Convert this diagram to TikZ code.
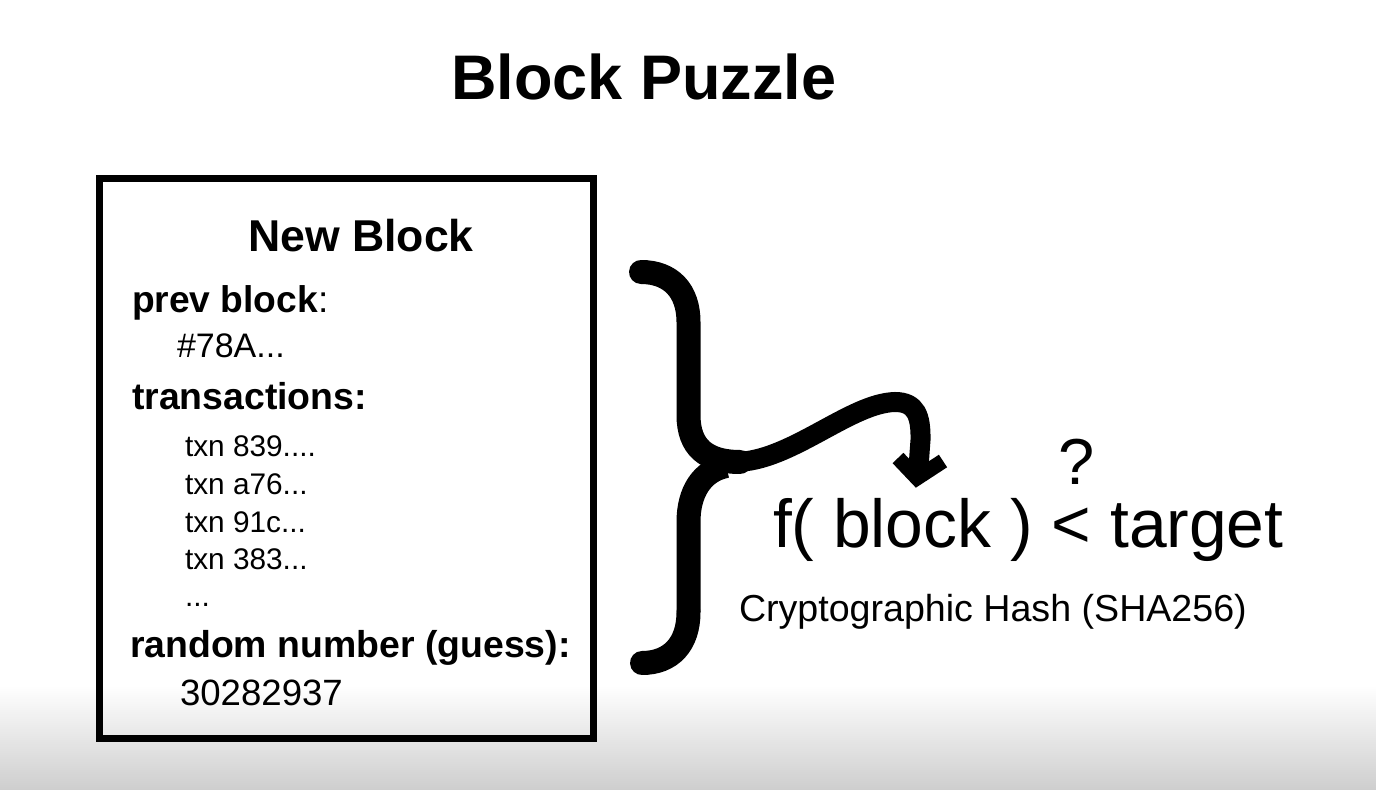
\documentclass[tikz,border=0pt]{standalone}
\usepackage{fontspec}
\setmainfont{Liberation Sans}
\newcommand\myfs[1]{\fontsize{#1}{#1}\selectfont}
\definecolor{bandgray}{RGB}{206,206,206}
\begin{document}
\begin{tikzpicture}[x=0.5pt,y=-0.5pt,
  lbl/.style={inner sep=0pt, outer sep=0pt, anchor=base west},
  clbl/.style={inner sep=0pt, outer sep=0pt, anchor=base},
  bracestroke/.style={line width=12pt, line cap=round, black},
  arrowstroke/.style={line width=10pt, line cap=butt, black},
  chevron/.style={line width=7.5pt, line cap=butt, line join=miter, black},
  blockbox/.style={line width=3.5pt, black}]
\useasboundingbox (0,0) rectangle (1376,790);
\fill[white] (0,0) rectangle (1376,790);
\shade[top color=white, bottom color=bandgray] (0,685) rectangle (1376,790);

% title
\node[clbl] (title) at (644,100) {\myfs{31.5}\bfseries Block Puzzle};

% block box
\draw[blockbox] (99.5,178.5) rectangle (593.5,738.5);
\node[clbl] (newblock) at (361,252) {\myfs{22.3}\bfseries New Block};
\node[lbl] (prev) at (132,313) {\myfs{18.6}\textbf{prev block}:};
\node[lbl] (prevhash) at (177,358) {\myfs{17}\#78A...};
\node[lbl] (trans) at (132,410) {\myfs{18.7}\bfseries transactions:};
\node[lbl] (t1) at (185,457) {\myfs{14.9}txn 839....};
\node[lbl] (t2) at (185,495) {\myfs{14.9}txn a76...};
\node[lbl] (t3) at (185,533) {\myfs{14.9}txn 91c...};
\node[lbl] (t4) at (185,570) {\myfs{14.9}txn 383...};
\node[lbl] (t5) at (185,607) {\myfs{14.9}...};
\node[lbl] (rand) at (130,657) {\myfs{18.7}\bfseries random number (guess):};
\node[lbl] (randval) at (180,705) {\myfs{18.3}30282937};

% brace
\draw[bracestroke] (641,272) .. controls (671,272) and (688.5,291) .. (688.5,322)
  -- (688.5,415) .. controls (688.5,447) and (706,462) .. (740,462);
\draw[bracestroke, line cap=butt] (726,466) .. controls (702,471) and (688.5,492) .. (688.5,522)
  -- (688.5,612);
\draw[bracestroke] (688.5,612) .. controls (688.5,644) and (671,663) .. (642,663);
% arrow
\draw[arrowstroke] (735,462) .. controls (790,462) and (850,403) .. (895,402)
  .. controls (916,402) and (921,416) .. (920.5,440) -- (918,474);
\draw[chevron] (898,458) -- (917,478) -- (943,461);

% formula
\node[lbl] (formula) at (773,548) {\myfs{33.9}f( block ) < target};
\node[clbl] (q) at (1077,485) {\myfs{32.5}?};
\node[lbl] (hash) at (739,622) {\myfs{18.8}Cryptographic Hash (SHA256)};
\end{tikzpicture}
\end{document}
